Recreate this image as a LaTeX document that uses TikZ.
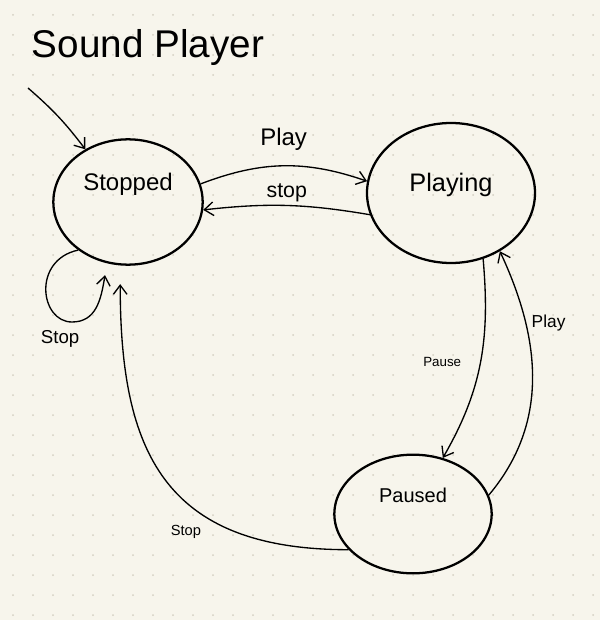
\documentclass[tikz,border=0pt]{standalone}
\usepackage{fontspec}
\setmainfont{Liberation Sans}
\usepackage{xcolor}
\usepackage{tikz}
\usetikzlibrary{positioning,arrows.meta,shapes.geometric,calc}
\definecolor{paper}{HTML}{F7F5EC}
\definecolor{gridDot}{HTML}{D4D0C2}
\tikzset{
  stateBlob/.style={
    ellipse,
    draw=black,
    line width=1.7pt,
    inner sep=0pt,
    align=center
  },
  handArrow/.style={
    -{Straight Barb[length=2.4mm,width=3.6mm]},
    line width=1pt
  },
  titleText/.style={
    font=\fontsize{29}{32}\selectfont
  },
  edgeLabel/.style={
    font=\fontsize{14}{16}\selectfont,
    inner sep=2pt
  }
}

\begin{document}
\begin{tikzpicture}[x=0.75pt,y=0.75pt]
        % paper and dot grid
        \fill[paper] (0,0) rectangle (600,-620);
        \useasboundingbox (0,0) rectangle (600,-620);
        \foreach \gx in {0,...,29}
          \foreach \gy in {0,...,30}
            \fill[gridDot] (13+20*\gx,-15-20*\gy) circle (1);

        \node[titleText] (title) at (148,-48) {Sound Player};

        \node[stateBlob, minimum width=112pt, minimum height=94pt, text depth=30pt,
              font=\fontsize{18}{20}\selectfont] (stopped) at (128,-202) {Stopped};
        \node[stateBlob, minimum width=126pt, minimum height=105pt, text depth=16pt,
              font=\fontsize{19}{21}\selectfont] (playing) at (451,-193) {Playing};
        \node[stateBlob, minimum width=118pt, minimum height=89pt, text depth=28pt,
              font=\fontsize{15}{17}\selectfont] (paused) at (413,-514) {Paused};

        \coordinate (initStart) at (28,-88);

        \draw[handArrow] (initStart) to[bend left=6] (stopped.129);
        \draw[handArrow] (stopped.14) to[bend left=20]
          node[edgeLabel, above=9pt, font=\fontsize{18}{20}\selectfont]{Play} (playing.172);
        \draw[handArrow] (playing.195) to[bend right=8]
          node[edgeLabel, above, font=\fontsize{16}{18}\selectfont]{stop} (stopped.354);
        \draw[handArrow, shorten >=9pt] (stopped.224) .. controls (32,-260) and (40,-322) .. (72,-322)
          node[edgeLabel, below left=4pt and -8pt]{Stop}
          .. controls (96,-322) and (101,-300) .. (stopped.251);
        \draw[handArrow] (playing.296) to[out=-85,in=60]
          node[edgeLabel, pos=0.5, left=12pt, font=\fontsize{10}{12}\selectfont]{Pause} (paused.62);
        \draw[handArrow] (paused.14) to[out=50,in=-65]
          node[edgeLabel, pos=0.72, right=2pt, font=\fontsize{13}{15}\selectfont]{Play} (playing.310);
        \draw[handArrow, shorten >=14pt] (paused.209) to[out=180,in=-90,looseness=1.3]
          node[edgeLabel, pos=0.33, below left=4pt, font=\fontsize{11}{13}\selectfont]{Stop} (stopped.263);
    \end{tikzpicture}
\end{document}
